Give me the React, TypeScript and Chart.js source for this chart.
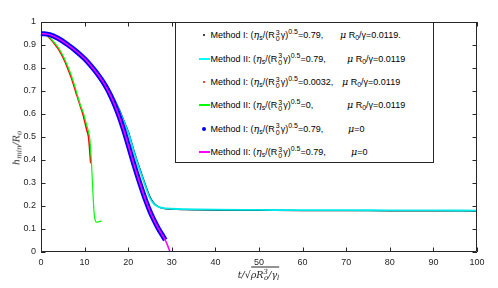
import React, { useEffect, useRef } from 'react';
import { Chart, registerables } from 'chart.js';

Chart.register(...registerables);

// ---- data ----
const tBlack = [0, 2, 4, 6, 8, 10, 12, 13, 14, 15, 16, 17, 18, 19, 20, 21, 22, 23, 24, 25, 26, 27, 28, 30, 33, 36, 40, 50, 60, 70, 80, 90, 100];
const hBlack = [0.95, 0.945, 0.929, 0.905, 0.878, 0.845, 0.805, 0.782, 0.757, 0.728, 0.696, 0.659, 0.618, 0.572, 0.525, 0.462, 0.4, 0.345, 0.29, 0.24, 0.21, 0.196, 0.19, 0.186, 0.184, 0.183, 0.182, 0.181, 0.18, 0.18, 0.179, 0.179, 0.178];

const tCyan = [0, 2, 4, 6, 8, 10, 12, 13, 14, 15, 16, 17, 18, 19, 20, 21, 22, 23, 24, 25, 26, 27, 28, 30, 33, 36, 40, 50, 60, 70, 80, 90, 100];
const hCyan = [0.95, 0.945, 0.929, 0.905, 0.877, 0.844, 0.803, 0.78, 0.755, 0.726, 0.693, 0.655, 0.613, 0.567, 0.52, 0.456, 0.393, 0.338, 0.283, 0.234, 0.207, 0.196, 0.191, 0.188, 0.186, 0.185, 0.184, 0.183, 0.182, 0.182, 0.181, 0.181, 0.18];

const tRed = [0, 1, 2, 3, 4, 5, 6, 7, 8, 8.6, 9, 9.6, 10, 10.5, 10.9, 11.1, 11.3, 11.4];
const hRed = [0.95, 0.945, 0.93, 0.908, 0.882, 0.848, 0.805, 0.755, 0.695, 0.66, 0.635, 0.6, 0.57, 0.53, 0.5, 0.46, 0.41, 0.386];

const tGreen = [0, 1, 2, 3, 4, 5, 6, 7, 8, 8.6, 9, 9.8, 10, 10.5, 11, 11.2, 11.4, 11.6, 11.8, 12.0, 12.2, 12.4, 12.7, 13.2, 13.9];
const hGreen = [0.95, 0.946, 0.932, 0.912, 0.888, 0.855, 0.813, 0.765, 0.705, 0.665, 0.64, 0.6, 0.585, 0.55, 0.515, 0.49, 0.44, 0.38, 0.3, 0.225, 0.165, 0.14, 0.13, 0.131, 0.136];

const tBlue = [0, 2, 4, 6, 8, 10, 12, 13, 14, 15, 16, 17, 18, 19, 20, 21, 22, 23, 24, 25, 26, 27, 28, 28.5];
const hBlue = [0.95, 0.945, 0.928, 0.903, 0.874, 0.84, 0.797, 0.773, 0.746, 0.715, 0.678, 0.635, 0.585, 0.528, 0.465, 0.4, 0.338, 0.28, 0.225, 0.176, 0.135, 0.099, 0.068, 0.052];

const tMagenta = [0, 2, 4, 6, 8, 10, 12, 13, 14, 15, 16, 17, 18, 19, 20, 21, 22, 23, 24, 25, 26, 27, 28, 28.5, 29, 29.6];
const hMagenta = [0.95, 0.945, 0.928, 0.903, 0.874, 0.84, 0.797, 0.773, 0.746, 0.715, 0.678, 0.635, 0.585, 0.528, 0.465, 0.4, 0.338, 0.28, 0.225, 0.176, 0.135, 0.099, 0.068, 0.052, 0.03, 0];

const xTickLabels = ['0', '10', '20', '30', '40', '50', '60', '70', '80', '90', '100'];
const yTickLabels = ['0', '0.1', '0.2', '0.3', '0.4', '0.5', '0.6', '0.7', '0.8', '0.9', '1'];

const legendMethod = ['Method I', 'Method II', 'Method I', 'Method II', 'Method I', 'Method II'];
const legendEta = ['0.79', '0.79', '0.0032', '0', '0.79', '0.79'];
const legendMu = ['0.0119.', '0.0119', '0.0119', '0.0119', '0', '0'];

const FRAME = '#262626';
const SANS = '"Liberation Sans", Arial, Helvetica, sans-serif';
const SERIF = '"DejaVu Serif", "Liberation Serif", serif';

const pts = (t: number[], h: number[]) => t.map((x, i) => ({ x, y: h[i] }));

const framePlugin = {
  id: 'frame',
  afterDatasetsDraw(chart: any) {
    const { ctx, chartArea: a, scales } = chart;
    const xs = scales.x;
    const ys = scales.y;
    const L = 4.5;
    ctx.save();
    ctx.strokeStyle = FRAME;
    ctx.lineWidth = 1;
    ctx.beginPath();
    ctx.rect(a.left + 0.5, a.top + 0.5, a.right - a.left - 1, a.bottom - a.top - 1);
    xs.ticks.forEach((tk: any) => {
      const px = Math.round(xs.getPixelForValue(tk.value)) + 0.5;
      ctx.moveTo(px, a.bottom);
      ctx.lineTo(px, a.bottom - L);
      ctx.moveTo(px, a.top);
      ctx.lineTo(px, a.top + L);
    });
    ys.ticks.forEach((tk: any) => {
      const py = Math.round(ys.getPixelForValue(tk.value)) + 0.5;
      ctx.moveTo(a.left, py);
      ctx.lineTo(a.left + L, py);
      ctx.moveTo(a.right, py);
      ctx.lineTo(a.right - L, py);
    });
    ctx.stroke();
    ctx.restore();
  },
};

const sub: React.CSSProperties = { fontSize: '7px', verticalAlign: '-2px', lineHeight: 0 };
const sup: React.CSSProperties = { fontSize: '7px', verticalAlign: '4px', lineHeight: 0 };
const greek: React.CSSProperties = { fontFamily: SERIF, fontStyle: 'italic', fontSize: '9.5px' };

function Stack({ top, bottom }: { top: string; bottom: string }) {
  return (
    <span style={{ display: 'inline-flex', flexDirection: 'column', fontSize: '7px', lineHeight: '6.5px', verticalAlign: '3.5px', margin: '0 1px' }}>
      <span>{top}</span>
      <span>{bottom}</span>
    </span>
  );
}

const rowY = [34.3, 57.7, 81, 104.3, 127.7, 151];
const muX = [339, 346, 341, 346, 347, 350];
const symbols = [
  { kind: 'dot', color: '#000000', r: 1.2 },
  { kind: 'line', color: '#00ffff', r: 0 },
  { kind: 'dot', color: '#ff0000', r: 1.2 },
  { kind: 'line', color: '#00ff00', r: 0 },
  { kind: 'dot', color: '#0000ff', r: 2 },
  { kind: 'line', color: '#ff00ff', r: 0 },
];

function Legend() {
  return (
    <div style={{ position: 'absolute', left: 175, top: 22, width: 259, height: 141, border: `1px solid ${FRAME}`, boxSizing: 'border-box', background: '#fff' }}>
      {rowY.map((y, i) => {
        const s = symbols[i];
        const yy = y - 22;
        return (
          <React.Fragment key={i}>
            {s.kind === 'line' ? (
              <div style={{ position: 'absolute', left: 198 - 175, top: Math.round(yy - 1), width: 11, height: 1.5, background: s.color }} />
            ) : (
              <div style={{ position: 'absolute', left: 203.3 - 175 - s.r, top: yy - s.r, width: 2 * s.r, height: 2 * s.r, borderRadius: '50%', background: s.color }} />
            )}
            <div style={{ position: 'absolute', left: 209.5 - 175, top: yy - 6, height: 12, lineHeight: '12px', whiteSpace: 'nowrap', fontSize: '9px', fontFamily: SANS, color: '#000' }}>
              {legendMethod[i]}: (<span style={greek}>η</span><span style={sub}>s</span>/(R<Stack top="3" bottom="0" />γ)<span style={sup}>0.5</span>={legendEta[i]},
            </div>
            <div style={{ position: 'absolute', left: muX[i] - 175, top: yy - 6, height: 12, lineHeight: '12px', whiteSpace: 'nowrap', fontSize: '9px', fontFamily: SANS, color: '#000' }}>
              {legendMu[i] === '0' ? (
                <>
                  <span style={greek}>μ</span>=0
                </>
              ) : (
                <>
                  <span style={greek}>μ</span> R<span style={sub}>0</span>/γ={legendMu[i]}
                </>
              )}
            </div>
          </React.Fragment>
        );
      })}
    </div>
  );
}

export default function App() {
  const ref = useRef<HTMLCanvasElement>(null);
  useEffect(() => {
    if (!ref.current) return;
    const line = (data: any, color: string, width: number, order: number, clip: any = undefined) => ({
      data,
      borderColor: color,
      backgroundColor: color,
      borderWidth: width,
      pointRadius: 0,
      showLine: true,
      cubicInterpolationMode: 'monotone' as const,
      order,
      clip,
    });
    const chart = new Chart(ref.current, {
      type: 'scatter',
      data: {
        datasets: [
          line(pts(tBlack, hBlack), '#000000', 1.2, 6),
          line(pts(tCyan, hCyan), '#00e8e8', 1.8, 5),
          line(pts(tRed, hRed), '#ff0000', 1.6, 4),
          line(pts(tGreen, hGreen), '#00ff00', 1.2, 3),
          line(pts(tBlue, hBlue), '#0000ff', 5, 2, 4),
          line(pts(tMagenta, hMagenta), '#ff00ff', 1.5, 1, 4),
        ] as any,
      },
      options: {
        animation: false,
        responsive: false,
        maintainAspectRatio: false,
        layout: { padding: { top: 22, right: 21, left: 0, bottom: 0 } },
        plugins: { legend: { display: false }, tooltip: { enabled: false } },
        scales: {
          x: {
            type: 'linear',
            min: 0,
            max: 100,
            grid: { display: false, drawTicks: false },
            border: { display: false },
            ticks: {
              stepSize: 10,
              padding: 5,
              color: FRAME,
              font: { family: SANS, size: 9 },
              maxRotation: 0,
              callback: (_v: any, i: number) => xTickLabels[i],
            },
            afterFit: (s: any) => {
              s.height = 36;
            },
          },
          y: {
            type: 'linear',
            min: 0,
            max: 1,
            grid: { display: false, drawTicks: false },
            border: { display: false },
            ticks: {
              stepSize: 0.1,
              padding: 5,
              color: FRAME,
              font: { family: SANS, size: 9 },
              callback: (_v: any, i: number) => yTickLabels[i],
            },
            afterFit: (s: any) => {
              s.width = 41;
            },
          },
        },
      },
      plugins: [framePlugin],
    });
    return () => chart.destroy();
  }, []);

  return (
    <div style={{ position: 'fixed', left: 0, top: 0, width: 498, height: 288, background: '#fff' }}>
      <canvas ref={ref} width={498} height={288} style={{ position: 'absolute', left: 0, top: 0, width: 498, height: 288 }} />
      <Legend />
      <div
        style={{
          position: 'absolute',
          left: 16,
          top: 148,
          transform: 'translate(-50%, -50%) rotate(-90deg)',
          whiteSpace: 'nowrap',
          fontFamily: SERIF,
          fontStyle: 'italic',
          fontSize: '9.5px',
          color: FRAME,
        }}
      >
        h<span style={sub}>min</span>/R<span style={sub}>o</span>
      </div>
      <div
        style={{
          position: 'absolute',
          left: 258.5,
          top: 274,
          transform: 'translate(-50%, -50%)',
          whiteSpace: 'nowrap',
          fontFamily: SERIF,
          fontStyle: 'italic',
          fontSize: '9.5px',
          color: FRAME,
        }}
      >
        t/√<span style={{ borderTop: `1px solid ${FRAME}`, paddingTop: 1 }}>ρR<span style={sup}>3</span><span style={{ ...sub, marginLeft: -4 }}>o</span>/γ<span style={sub}>l</span></span>
      </div>
    </div>
  );
}
